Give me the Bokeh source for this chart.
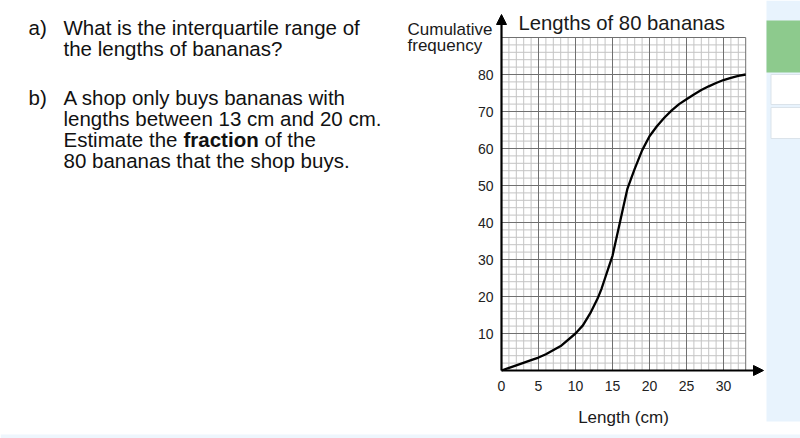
from bokeh.plotting import figure
from bokeh.models import Label, Arrow, NormalHead, FixedTicker, Range1d
from bokeh.embed import file_html
from bokeh.resources import INLINE

# ---- data ----
lengths = [0, 2, 4, 5, 6, 8, 10, 11, 12, 13, 13.5, 14, 14.5, 15, 16, 16.5, 17, 17.5, 18, 19,
           20, 21, 22, 23, 24, 25, 26, 27, 28, 29, 30, 31, 32, 33]
cum_freq = [0, 1.4, 2.8, 3.5, 4.4, 6.6, 10, 12.2, 15.5, 19.5, 22, 25, 28, 31, 40, 44.5, 49, 51.8,
            54.5, 59.5, 63.3, 66, 68.3, 70.3, 72, 73.3, 74.6, 75.8, 76.8, 77.7, 78.5, 79.1, 79.6, 80]
x_ticks = [0, 5, 10, 15, 20, 25, 30]
y_ticks = [10, 20, 30, 40, 50, 60, 70, 80]
x_max = 33
y_max = 90

# ---- pixel helpers (reference image coordinates) ----
PX_X0, SX = 501.0, 7.4
PX_Y0, SY = 370.0, 3.7
def dx(px):
    return (px - PX_X0) / SX
def dy(py):
    return (PX_Y0 - py) / SY

W, H = 800, 438

p = figure(width=W, height=H, output_backend="svg", toolbar_location=None,
           x_range=Range1d(dx(0), dx(W)), y_range=Range1d(dy(H), dy(0)),
           min_border_left=0, min_border_right=0, min_border_top=0, min_border_bottom=0)
p.outline_line_color = None
p.xgrid.visible = False
p.ygrid.visible = False
p.background_fill_color = "white"
p.border_fill_color = "white"

# ---- side panel (screenshot UI) ----
p.quad(left=[dx(766)], right=[dx(800)], top=[dy(0)], bottom=[dy(421)],
       fill_color="#e8f3fd", line_color=None)
p.quad(left=[dx(766)], right=[dx(800)], top=[dy(20)], bottom=[dy(72)],
       fill_color="#8dca8d", line_color=None)
p.quad(left=[dx(770.5)], right=[dx(801)], top=[dy(74)], bottom=[dy(104)],
       fill_color="white", line_color="#dbe3ea", line_width=1)
p.quad(left=[dx(770.5)], right=[dx(801)], top=[dy(107)], bottom=[dy(138)],
       fill_color="white", line_color="#dbe3ea", line_width=1)
p.quad(left=[dx(0)], right=[dx(800)], top=[dy(434)], bottom=[dy(439)],
       fill_color="#eef6fd", line_color=None)

# ---- grid paper ----
minor_x = [v for v in range(1, x_max) if v % 5 != 0]
major_x = [v for v in range(5, x_max, 5)] + [x_max]
minor_y = [v for v in range(2, y_max, 2) if v % 10 != 0]
major_y = [v for v in range(10, y_max, 10)] + [y_max]

p.segment(x0=minor_x, y0=[0]*len(minor_x), x1=minor_x, y1=[y_max]*len(minor_x),
          line_color="#c4c4c4", line_width=1)
p.segment(x0=[0]*len(minor_y), y0=minor_y, x1=[x_max]*len(minor_y), y1=minor_y,
          line_color="#c4c4c4", line_width=1)
p.segment(x0=major_x, y0=[0]*len(major_x), x1=major_x, y1=[y_max]*len(major_x),
          line_color="#707070", line_width=1)
p.segment(x0=[0]*len(major_y), y0=major_y, x1=[x_max]*len(major_y), y1=major_y,
          line_color="#707070", line_width=1)

# ---- curve ----
p.line(lengths, cum_freq, line_color="black", line_width=2.3, line_join="round")

# ---- axis arrows ----
p.add_layout(Arrow(end=NormalHead(size=10, fill_color="black", line_color="black"),
                   x_start=0, y_start=0, x_end=dx(763), y_end=0,
                   line_color="black", line_width=2.2))
p.add_layout(Arrow(end=NormalHead(size=10, fill_color="black", line_color="black"),
                   x_start=0, y_start=0, x_end=0, y_end=dy(14),
                   line_color="black", line_width=2.2))

# ---- axes drawn at the origin ----
for ax in p.xaxis:
    ax.fixed_location = 0
    ax.bounds = (0, x_max)
    ax.ticker = FixedTicker(ticks=x_ticks)
    ax.axis_line_color = None
    ax.major_tick_line_color = None
    ax.minor_tick_line_color = None
    ax.major_tick_out = 0
    ax.major_tick_in = 0
    ax.major_label_standoff = 10
    ax.major_label_text_font = "Liberation Sans"
    ax.major_label_text_font_size = "14px"
    ax.major_label_text_color = "#222222"
    ax.axis_label = "Length (cm)"
    ax.axis_label_standoff = 14
    ax.axis_label_text_font = "Liberation Sans"
    ax.axis_label_text_font_size = "17px"
    ax.axis_label_text_font_style = "normal"
    ax.axis_label_text_color = "#1a1a1a"
for ax in p.yaxis:
    ax.fixed_location = 0
    ax.bounds = (0, y_max)
    ax.ticker = FixedTicker(ticks=y_ticks)
    ax.axis_line_color = None
    ax.major_tick_line_color = None
    ax.minor_tick_line_color = None
    ax.major_tick_out = 0
    ax.major_tick_in = 0
    ax.major_label_standoff = 8
    ax.major_label_text_font = "Liberation Sans"
    ax.major_label_text_font_size = "14px"
    ax.major_label_text_color = "#222222"

# ---- texts ----
SHIFT = -6.5
def lab(text, px, py, size, align="left", style="normal", color="#111111"):
    p.add_layout(Label(x=dx(px), y=dy(py + SHIFT), text=text, text_font="Liberation Sans",
                       text_font_size=size, text_align=align, text_baseline="alphabetic",
                       text_font_style=style, text_color=color))

Q = "20.5px"
lab("a)", 28, 33, Q)
lab("What is the interquartile range of", 63, 33, Q)
lab("the lengths of bananas?", 63, 54.5, Q)
lab("b)", 28, 103, Q)
lab("A shop only buys bananas with", 63, 103, Q)
lab("lengths between 13 cm and 20 cm.", 63, 124.3, Q)
lab("Estimate the ", 63, 145.6, Q)
lab("fraction", 183, 145.6, Q, style="bold")
lab("of the", 264, 145.6, Q)
lab("80 bananas that the shop buys.", 63, 166.9, Q)

lab("Lengths of 80 bananas", 518, 29, "20.3px", color="#1a1a1a")
lab("Cumulative", 407, 35, "17px", color="#1a1a1a")
lab("frequency", 407, 51, "17px", color="#1a1a1a")

open("out.html", "w").write(file_html(p, INLINE))
